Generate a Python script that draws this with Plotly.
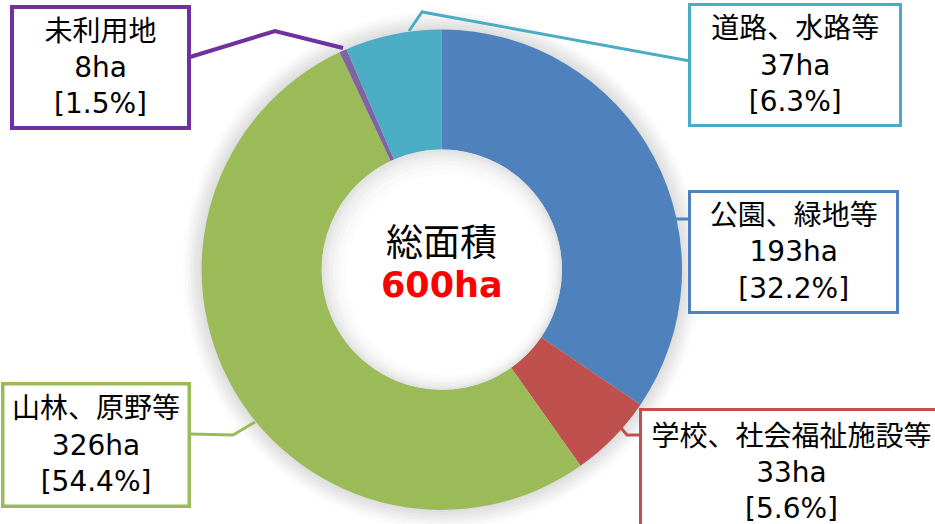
import plotly.graph_objects as go

# ---- data ----
categories = ["公園、緑地等", "学校、社会福祉施設等", "山林、原野等", "未利用地", "道路、水路等"]
areas_ha = [193, 33, 326, 8, 37]
shares_pct = [32.2, 5.6, 54.4, 1.5, 6.3]
# arc sizes as drawn in the picture (percent of the ring)
slice_sizes = [34.5, 5.7, 52.8, 0.5, 6.5]
total_label = "総面積"
total_value = "600ha"

slice_colors = ["#4F81BD", "#C0504D", "#9BBB59", "#8064A2", "#4BACC6"]
border_colors = ["#4F81BD", "#C0504D", "#9BBB59", "#7030A0", "#4BACC6"]

W, H = 935, 524
def px(x):
    return x / W
def py(y):
    return 1 - y / H

CX, CY, R = 441.8, 269.7, 240.2
HOLE = 0.5

fig = go.Figure()
fig.add_trace(go.Pie(
    labels=categories,
    values=slice_sizes,
    sort=False,
    direction="clockwise",
    rotation=0,
    hole=HOLE,
    marker=dict(colors=slice_colors, line=dict(width=0)),
    textinfo="none",
    hoverinfo="label",
    showlegend=False,
    domain=dict(x=[px(CX - R), px(CX + R)], y=[py(CY + R), py(CY - R)]),
))

shapes = []
# soft outer glow behind the ring
glow = [(20, "#fdfdfd"), (17, "#f9f9f9"), (14, "#f4f4f4"), (11, "#eeeeee"),
        (8, "#e8e8e8"), (5, "#e3e3e3"), (2, "#dedede")]
for d, c in glow:
    r = R + d
    shapes.append(dict(type="circle", xref="paper", yref="paper", layer="below",
                       x0=px(CX - r), x1=px(CX + r), y0=py(CY + r), y1=py(CY - r),
                       fillcolor=c, line=dict(width=0)))
# inner shading of the hole
ri = R * HOLE
inner = [(0, "#e2e2e2"), (2, "#e7e7e7"), (4, "#ececec"), (6, "#f0f0f0"),
         (9, "#f5f5f5"), (12, "#f9f9f9"), (16, "#fcfcfc"), (20, "#ffffff")]
for d, c in inner:
    r = ri - d
    ox, oy = d * 0.25, d * 0.25
    shapes.append(dict(type="circle", xref="paper", yref="paper", layer="above",
                       x0=px(CX + ox - r), x1=px(CX + ox + r),
                       y0=py(CY + oy + r), y1=py(CY + oy - r),
                       fillcolor=c, line=dict(width=0)))

# leader lines (pixel points)
leaders = [
    ([(676, 219), (690, 219)], border_colors[0], 3),
    ([(621, 428), (627, 435), (642, 435)], border_colors[1], 3),
    ([(255, 422), (233, 435), (190, 434)], border_colors[2], 3),
    ([(343, 48), (275, 31), (190, 57)], border_colors[3], 4),
    ([(409, 31), (422, 12), (690, 61)], border_colors[4], 3),
]
for pts, c, w in leaders:
    path = "M " + " L ".join(f"{px(x)},{py(y)}" for x, y in pts)
    shapes.append(dict(type="path", xref="paper", yref="paper", layer="above",
                       path=path, line=dict(color=c, width=w)))

# label boxes: (left, top, right, bottom) in pixels, border width
boxes = [
    (689.3, 191.7, 897.7, 312.3, 3),
    (640.0, 409.0, 942.0, 535.0, 3),
    (2.7, 383.3, 189.3, 506.0, 3.5),
    (12.3, 7.3, 189.3, 128.3, 4),
    (689.3, 4.7, 900.7, 126.0, 3),
]
font_family = "DejaVu Sans, Noto Sans CJK JP, sans-serif"
annotations = []
for i, (l, t, r, b, bw) in enumerate(boxes):
    text = f"{categories[i]}<br>{areas_ha[i]}ha<br>[{shares_pct[i]}%]"
    annotations.append(dict(
        xref="paper", yref="paper", x=px((l + r) / 2), y=py((t + b) / 2),
        xanchor="center", yanchor="middle", showarrow=False,
        text=text, align="center", valign="middle",
        width=r - l - bw, height=b - t - bw, borderpad=0,
        bgcolor="white", bordercolor=border_colors[i], borderwidth=bw,
        font=dict(family=font_family, size=28, color="#000000"),
    ))

annotations.append(dict(
    xref="paper", yref="paper", x=px(CX), y=py(240), xanchor="center", yanchor="middle",
    showarrow=False, text=total_label,
    font=dict(family="Noto Sans CJK JP, sans-serif", size=37, color="#000000")))
annotations.append(dict(
    xref="paper", yref="paper", x=px(CX), y=py(285), xanchor="center", yanchor="middle",
    showarrow=False, text=f"<b>{total_value}</b>",
    font=dict(family="DejaVu Sans, sans-serif", size=35, color="#FF0000")))

fig.update_layout(
    width=W, height=H,
    margin=dict(l=0, r=0, t=0, b=0),
    paper_bgcolor="white", plot_bgcolor="white",
    shapes=shapes, annotations=annotations,
)

fig.write_html("out.html", config=dict(displayModeBar=False),
               post_script="document.body.style.margin='0';")
